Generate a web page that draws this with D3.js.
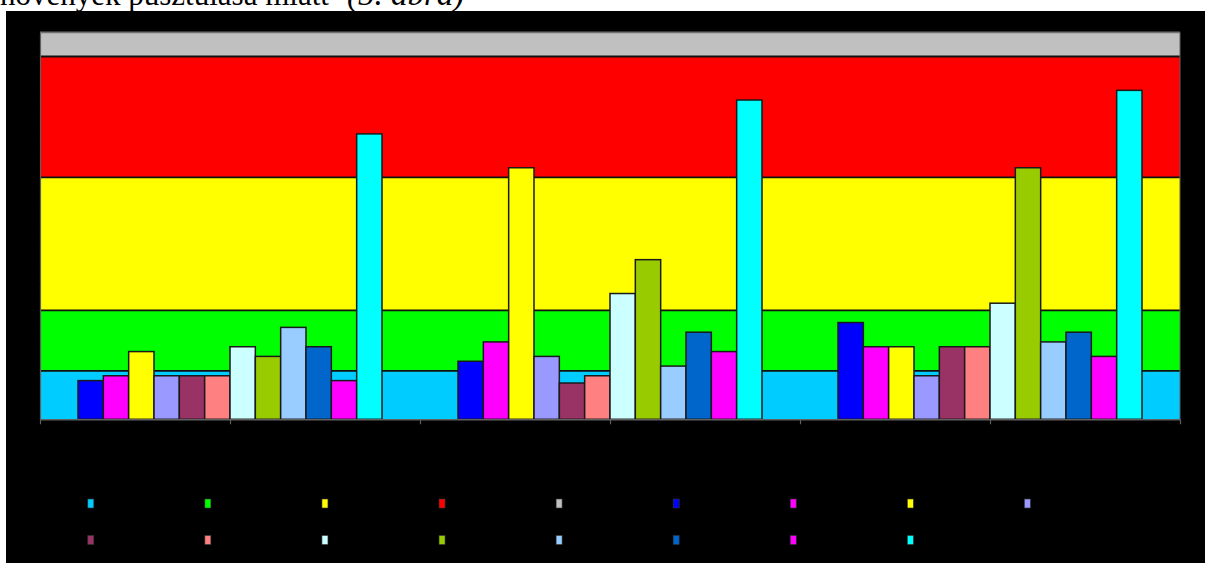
<!DOCTYPE html>
<html>
<head>
<meta charset="utf-8">
<script src="https://cdn.jsdelivr.net/npm/d3@7"></script>
<style>
  html, body { margin: 0; padding: 0; background: #fff; }
  svg { display: block; }
</style>
</head>
<body>
<svg id="chart" width="1205" height="563"></svg>
<script>
// Threshold bands behind the bars (stacked from zero upwards)
const bandSizes  = [20, 25, 55, 50, 10];
const bandColors = ["#00CCFF", "#00FF00", "#FFFF00", "#FF0000", "#C0C0C0"];

// Three measurement groups, twelve series each
const groups = ["I.", "II.", "III."];
const seriesColors = ["#0000FF", "#FF00FF", "#FFFF00", "#9999FF", "#993366", "#FF8080",
                      "#CCFFFF", "#99CC00", "#99CCFF", "#0066CC", "#FF00FF", "#00FFFF"];
const groupValues1 = [16, 18, 28, 18, 18, 18, 30, 26, 38, 30, 16, 118];
const groupValues2 = [24, 32, 104, 26, 15, 18, 52, 66, 22, 36, 28, 132];
const groupValues3 = [40, 30, 30, 18, 30, 30, 48, 104, 32, 36, 26, 136];
const yTicks = d3.range(0, 161, 8);

const values = [groupValues1, groupValues2, groupValues3];
const svg = d3.select("#chart");

// page heading (only its lower edge is in view)
const head = svg.append("text")
  .attr("x", 0).attr("y", 4.5)
  .attr("font-family", "Liberation Serif, Times New Roman, serif")
  .attr("font-size", 31).attr("fill", "#000");
head.append("tspan").text("növények pusztulása miatt ");
head.append("tspan").attr("x", 347).attr("font-style", "italic").attr("font-size", 33).text("(5. ábra)");

// black chart area
svg.append("rect").attr("x", 6).attr("y", 11).attr("width", 1199).attr("height", 552).attr("fill", "#000");

const plotL = 40, plotR = 1180, plotT = 32.3, plotB = 419.3;
const y = d3.scaleLinear().domain([0, 160]).range([plotB, plotT]);
const xGroup = d3.scaleBand().domain(groups).range([plotL, plotR]).paddingInner(0.2).paddingOuter(0.1);
const xSeries = d3.scaleBand().domain(d3.range(seriesColors.length)).range([0, xGroup.bandwidth()]);
const xTick = d3.scaleLinear().domain([0, 6]).range([plotL, plotR]);

// bands
const bandTops = d3.cumsum(bandSizes);
const bands = bandSizes.map((s, i) => ({ lo: bandTops[i] - s, hi: bandTops[i], color: bandColors[i] }));
const gBands = svg.append("g");
gBands.selectAll("rect").data(bands).join("rect")
  .attr("x", plotL).attr("width", plotR - plotL)
  .attr("y", d => y(d.hi)).attr("height", d => y(d.lo) - y(d.hi))
  .attr("fill", d => d.color);
gBands.selectAll("line").data(bands).join("line")
  .attr("x1", plotL).attr("x2", plotR)
  .attr("y1", d => y(d.hi)).attr("y2", d => y(d.hi))
  .attr("stroke", (d, i) => i === bands.length - 1 ? "#707070" : "#111")
  .attr("stroke-width", 1.8);

// bars
const gBars = svg.append("g");
groups.forEach((g, gi) => {
  gBars.append("g").attr("transform", `translate(${xGroup(g)},0)`)
    .selectAll("rect").data(values[gi]).join("rect")
    .attr("x", (d, i) => xSeries(i)).attr("width", xSeries.bandwidth())
    .attr("y", d => y(d)).attr("height", d => y(0) - y(d))
    .attr("fill", (d, i) => seriesColors[i])
    .attr("stroke", "#1a1a1a").attr("stroke-width", 1.5);
});

// plot frame (right edge)
svg.append("line").attr("x1", plotR).attr("x2", plotR).attr("y1", plotT).attr("y2", plotB)
  .attr("stroke", "#606060").attr("stroke-width", 1);

// axes
const yAxis = svg.append("g").attr("transform", `translate(${plotL},0)`)
  .call(d3.axisLeft(y).tickValues(yTicks).tickSize(4).tickSizeOuter(0));
yAxis.select(".domain").attr("stroke", "#606060").attr("stroke-width", 1.2);
yAxis.selectAll(".tick line").attr("stroke", "#000");
yAxis.selectAll("text").attr("fill", "#000").attr("font-family", "Liberation Sans, Arial, sans-serif").attr("font-size", 11);

const xAxis = svg.append("g").attr("transform", `translate(0,${plotB})`)
  .call(d3.axisBottom(xTick).ticks(6).tickSize(5).tickSizeOuter(0).tickFormat(""));
xAxis.select(".domain").attr("stroke", "#606060").attr("stroke-width", 1.4);
xAxis.selectAll(".tick line").attr("stroke", "#606060").attr("stroke-width", 1.2);

// group captions (black on black)
svg.append("g").selectAll("text").data(groups).join("text")
  .attr("x", d => xGroup(d) + xGroup.bandwidth() / 2).attr("y", plotB + 20)
  .attr("text-anchor", "middle").attr("fill", "#000")
  .attr("font-family", "Liberation Sans, Arial, sans-serif").attr("font-size", 12)
  .text(d => d);

// legend swatches, nine per row
const legendColors = bandColors.concat(seriesColors);
const col = d3.scalePoint().domain(d3.range(9)).range([90.8, 1027.4]);
const row = d3.scalePoint().domain([0, 1]).range([503.5, 540]);
svg.append("g").selectAll("rect").data(legendColors).join("rect")
  .attr("x", (d, i) => col(i % 9) - 3).attr("y", (d, i) => row(Math.floor(i / 9)) - 4.5)
  .attr("width", 6).attr("height", 9)
  .attr("fill", d => d).attr("stroke", "#333").attr("stroke-width", 0.6);
</script>
</body>
</html>
